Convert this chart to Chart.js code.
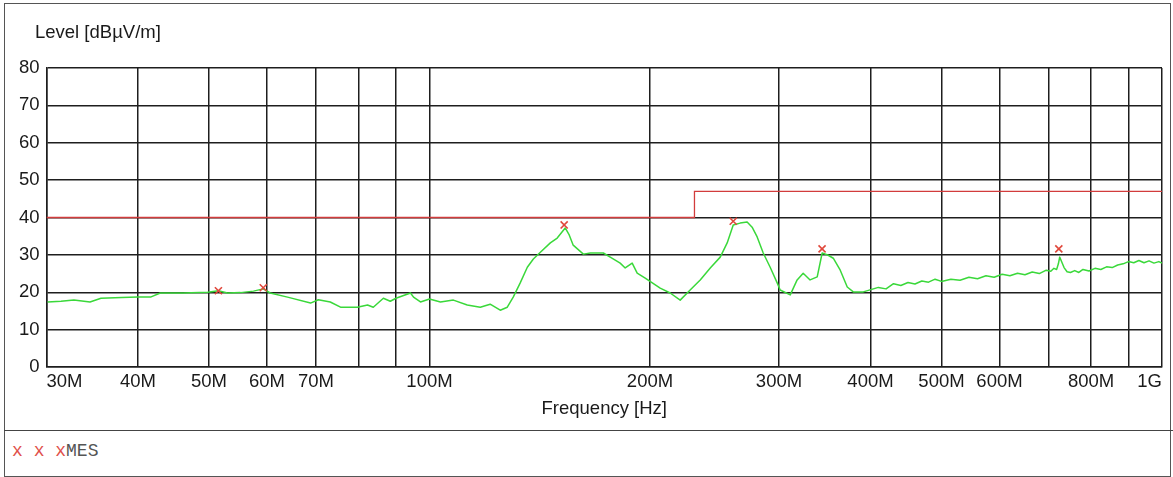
<!DOCTYPE html>
<html><head><meta charset="utf-8">
<script src="https://cdn.jsdelivr.net/npm/chart.js@4/dist/chart.umd.min.js"></script>
<style>
html,body{margin:0;padding:0;background:#fff;}
#wrap{position:relative;width:1173px;height:477px;overflow:hidden;background:#fff;}
#frame{position:absolute;left:4px;top:3px;width:1167px;height:474px;border:1.5px solid #555;box-sizing:border-box;}
#divider{position:absolute;left:4px;top:430px;width:1169px;height:0;border-top:1.5px solid #444;}
#c{position:absolute;left:0;top:0;}
#legend{position:absolute;left:12px;top:441px;font-family:"Liberation Mono",monospace;font-size:18px;line-height:20px;color:#555;white-space:pre;}
#legend .m{color:#e0504a;}
</style>
</head><body>
<div id="wrap">
  <div id="frame"></div>
  <div id="divider"></div>
  <canvas id="c" width="1173" height="430"></canvas>
  <div id="legend"><span class="m">x</span> <span class="m">x</span> <span class="m">x</span>MES</div>
</div>
<script>
// X axis ticks (MHz) and their labels
const xTickValues = [30,40,50,60,70,80,90,100,200,300,400,500,600,700,800,900,1000];
const xTickLabels = ['30M','40M','50M','60M','70M','','','100M','200M','300M','400M','500M','600M','','800M','','1G'];
const yTickValues = [0,10,20,30,40,50,60,70,80];

// Measured trace (frequency in MHz, level in dBµV/m)
const traceFreq = [30.1,31.4,32.7,34.4,35.6,38.0,40.0,41.6,42.9,46.1,49.8,51.5,53.0,55.2,57.5,59.3,60.6,64.0,68.8,70.5,73.2,75.6,79.7,82.3,83.8,86.5,88.4,90.0,94.2,95.1,97.2,100,103.5,107.8,112.6,117.3,121.0,124.9,127.7,130.1,133.0,136.0,138.6,141.7,146.2,149.4,153.2,155.0,157.1,162.2,165.8,172.7,176.5,182.1,185.0,189.1,192.1,197.0,206.5,213.1,219.9,226.9,234.2,241.7,249.4,254.9,259.8,265.5,271.4,275.7,280.1,285.5,291.8,298.3,301.1,310.8,317.6,323.7,330.8,338.3,343.6,350.2,355.8,363.7,371.8,378.9,391.0,403.6,410,420,430,440,450,460,470,480,490,500,515,530,545,560,575,590,605,620,635,650,665,680,695,705,712,718,722,725,729,735,742,750,760,770,780,795,810,825,840,855,870,885,900,915,930,945,960,975,990,1000];
const traceLevel = [17.4,17.6,17.9,17.4,18.4,18.6,18.7,18.7,19.8,19.8,20.0,20.4,19.8,19.9,20.3,20.9,19.8,18.7,17.1,18.0,17.4,16.0,16.0,16.6,16.0,18.4,17.6,18.4,19.8,18.7,17.4,18.2,17.4,17.9,16.6,16.0,16.8,15.2,16.0,18.7,22.5,26.7,28.9,30.7,33.2,34.5,37.2,35.5,32.6,30.2,30.5,30.5,29.4,27.8,26.5,27.8,25.1,23.8,21.1,19.8,17.9,20.6,23.3,26.5,29.4,33.2,38.0,38.5,38.8,37.4,34.8,30.5,26.7,22.5,20.6,19.3,23.3,25.1,23.3,24.1,30.5,29.9,29.1,25.9,21.4,20.1,20.1,20.9,21.3,20.9,22.3,21.8,22.6,22.2,23.0,22.7,23.5,22.9,23.5,23.2,24.0,23.6,24.4,24.0,24.8,24.4,25.1,24.7,25.4,25.0,25.9,25.6,26.4,26.1,27.6,29.4,28.3,26.6,25.5,25.3,25.8,25.3,26.1,25.7,26.4,26.1,26.8,26.6,27.3,27.6,28.2,27.9,28.5,27.9,28.4,27.8,28.2,27.8,28.3,27.9];

// Limit line
const limitFreq = [30,230,230,1000];
const limitLevel = [40,40,47,47];

// Final measurement markers
const markerFreq = [51.5,59.3,152.7,259.8,343.5,723];
const markerLevel = [20.4,21.2,38.0,39.0,31.6,31.6];

const txtFont = {family:'"Liberation Sans", Arial, sans-serif', size:18.5, weight:'normal'};
const gridCol = '#1e1e1e';

const toPts = (xs, ys) => xs.map((x, i) => ({x: x, y: ys[i]}));

// shift the (horizontal) axis title at the top-left to where the reference has it
const titleShift = {
  id:'titleShift',
  afterLayout(chart) {
    const t = chart.titleBlock;
    if (t) { t.left += 35; }
  }
};

new Chart(document.getElementById('c').getContext('2d'), {
  type: 'line',
  data: {
    datasets: [
      {label:'MES', type:'scatter', data: toPts(markerFreq, markerLevel), showLine:false,
       pointStyle:'crossRot', pointRadius:5, borderColor:'#e0483c', backgroundColor:'#e0483c', borderWidth:1.6, order:0, clip:false},
      {label:'Level', data: toPts(traceFreq, traceLevel), borderColor:'#3ad83a', borderWidth:1.5,
       pointRadius:0, tension:0, borderJoinStyle:'round', order:1},
      {label:'Limit', data: toPts(limitFreq, limitLevel), borderColor:'#d23c3c', borderWidth:1.3,
       pointRadius:0, tension:0, order:2}
    ]
  },
  options: {
    responsive:false, animation:false, events:[],
    layout:{padding:{left:0, right:11, top:0, bottom:0}},
    plugins:{
      legend:{display:false}, tooltip:{enabled:false},
      title:{display:true, text:'Level [dBµV/m]', align:'start', color:'#1a1a1a', font:txtFont, padding:{top:22, bottom:23.8}}
    },
    scales:{
      x:{type:'logarithmic', min:30, max:1000,
         afterBuildTicks: s => { s.ticks = xTickValues.map(v => ({value:v})); },
         afterFit: s => { s.height = 63; },
         ticks:{autoSkip:false, maxRotation:0, minRotation:0, align:'inner', padding:4, color:'#1a1a1a', font:txtFont,
                callback:(v, i) => xTickLabels[i]},
         grid:{color:gridCol, lineWidth:1.5, drawTicks:false},
         border:{color:gridCol, width:1.5},
         title:{display:true, text:'Frequency [Hz]', color:'#1a1a1a', font:txtFont, padding:{top:2, bottom:10}}},
      y:{min:0, max:80,
         afterBuildTicks: s => { s.ticks = yTickValues.map(v => ({value:v})); },
         afterFit: s => { s.width = 46.5; },
         ticks:{padding:7, color:'#1a1a1a', font:txtFont},
         grid:{color:gridCol, lineWidth:1.5, drawTicks:false},
         border:{color:gridCol, width:1.5}}
    }
  },
  plugins:[titleShift]
});
</script>
</body></html>
